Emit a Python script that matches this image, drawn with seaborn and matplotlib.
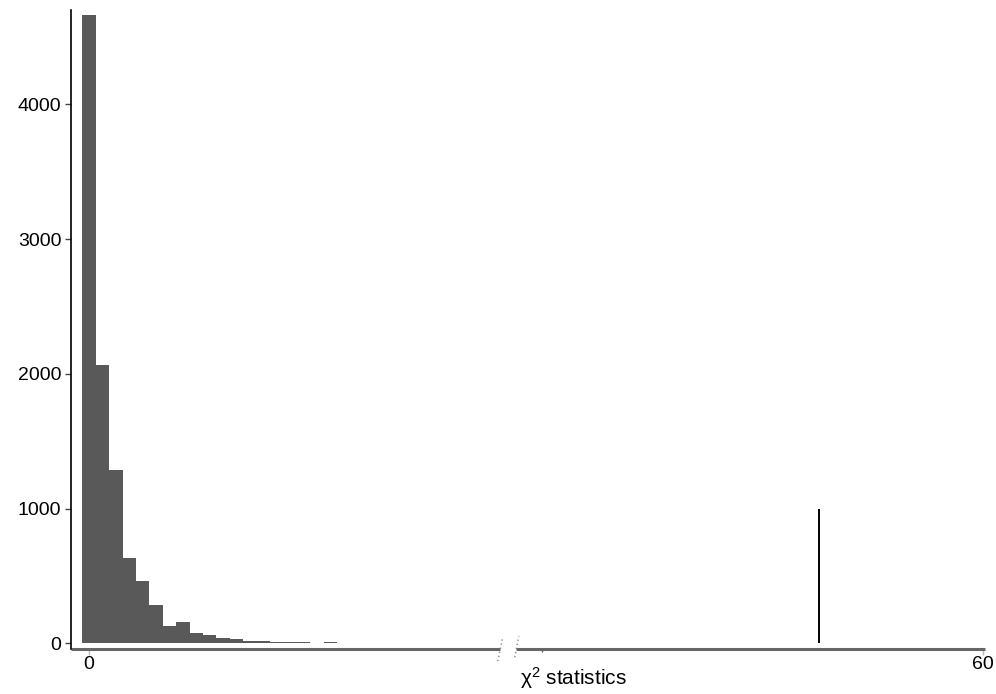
import numpy as np
import pandas as pd
import matplotlib
matplotlib.use("Agg")
import matplotlib.pyplot as plt
import seaborn as sns

# histogram counts, one per bin (bin width 0.9, first bin centred on 0)
bin_width = 0.9
bin_start = -0.45
counts = [4660, 2068, 1289, 636, 465, 287, 131, 158, 76, 59, 42, 31,
          18, 15, 9, 8, 8, 3, 8, 3, 2, 0, 0, 2, 2, 0, 2]
observed_stat = 49.0
observed_height = 1000
x_ticks = [0, 60]
y_ticks = [0, 1000, 2000, 3000, 4000]
x_label = "χ$^{2}$ statistics"

centers = [bin_start + bin_width * (i + 0.5) for i in range(len(counts))]
edges = [bin_start + bin_width * i for i in range(len(counts) + 1)]
df = pd.DataFrame({"stat": centers, "n": counts})

sns.set_style("white")
plt.rcParams["font.family"] = ["Liberation Sans", "DejaVu Sans"]
plt.rcParams["mathtext.fontset"] = "custom"
plt.rcParams["mathtext.rm"] = "Liberation Sans"
plt.rcParams["mathtext.it"] = "Liberation Sans:italic"

fig = plt.figure(figsize=(9.96, 6.94), dpi=100)
ax = fig.add_axes([71 / 996, 45 / 694, 914 / 996, 639 / 694])

sns.histplot(data=df, x="stat", weights="n", bins=edges, color="#595959",
             edgecolor="none", alpha=1, linewidth=0, ax=ax)
ax.vlines(observed_stat, 0, observed_height, color="black", lw=1.4)

ax.set_xlim(-1.21, 60.13)
ax.set_ylim(-42, 4700)
ax.set_xticks(x_ticks)
ax.set_yticks(y_ticks)
ax.set_xlabel("")
ax.set_ylabel("")
ax.tick_params(axis="y", length=4, width=1, color="#444444", labelsize=14,
               labelcolor="black", pad=3, left=True)
ax.tick_params(axis="x", length=4, width=1, color="#bbbbbb", labelsize=14,
               labelcolor="black", pad=1, bottom=True)
ax.set_xticks([30.4], minor=True)
ax.tick_params(axis="x", which="minor", length=2, width=1, color="#555555", bottom=True)

for s in ["top", "right", "bottom"]:
    ax.spines[s].set_visible(False)
ax.spines["left"].set_color("black")
ax.spines["left"].set_linewidth(1.2)

# broken x-axis line
tr = ax.get_xaxis_transform()
ax.plot([-1.21, 27.6], [0, 0], transform=tr, color="#666666", lw=2.2, clip_on=False,
        solid_capstyle="butt")
ax.plot([28.65, 60.13], [0, 0], transform=tr, color="#666666", lw=2.2, clip_on=False,
        solid_capstyle="butt")
ax.plot([27.43, 27.77], [-0.019, 0.019], transform=tr, color="#888888", lw=1,
        ls=(0, (1, 2)), clip_on=False)
ax.plot([28.57, 28.84], [-0.013, 0.020], transform=tr, color="#888888", lw=1,
        ls=(0, (1, 2)), clip_on=False)

ax.text(0.55, -0.046, x_label, transform=ax.transAxes, ha="center", va="center",
        fontsize=15, color="black")

fig.savefig("out.png", dpi=100)
